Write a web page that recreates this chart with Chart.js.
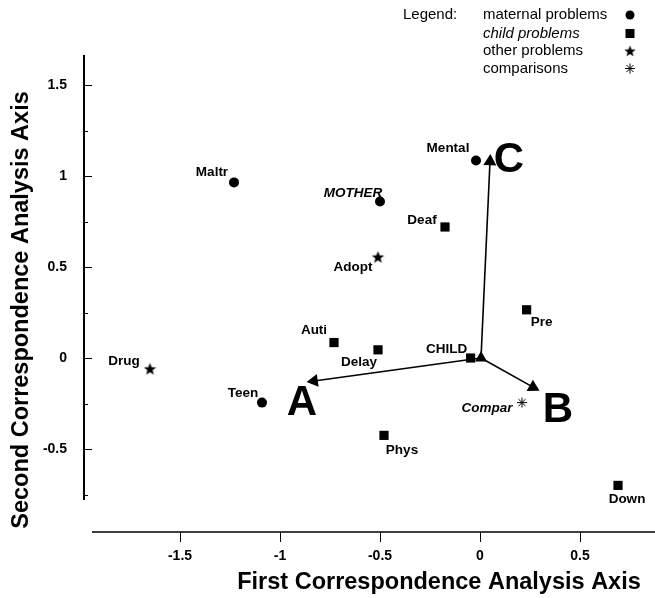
<!DOCTYPE html>
<html>
<head>
<meta charset="utf-8">
<script src="https://cdn.jsdelivr.net/npm/chart.js@4.4.1/dist/chart.umd.min.js"></script>
<style>
  html, body { margin: 0; padding: 0; background: #fff; }
  #wrap { width: 655px; height: 598px; }
</style>
</head>
<body>
<div id="wrap"><canvas id="chart" width="655" height="598"></canvas></div>
<script>
"use strict";

// --- data ---
var maternalNames = ['Maltr', 'MOTHER', 'Mental', 'Teen'];
var maternalX = [-1.23, -0.50, -0.02, -1.09];
var maternalY = [0.965, 0.86, 1.085, -0.245];

var childNames = ['Deaf', 'Auti', 'Delay', 'CHILD', 'Pre', 'Phys', 'Down'];
var childX = [-0.175, -0.73, -0.51, -0.047, 0.233, -0.48, 0.69];
var childY = [0.72, 0.085, 0.045, 0.0, 0.265, -0.425, -0.70];

var otherNames = ['Drug', 'Adopt'];
var otherX = [-1.65, -0.51];
var otherY = [-0.06, 0.555];

var comparNames = ['Compar'];
var comparX = [0.21];
var comparY = [-0.245];

var axisNames = ['A', 'B', 'C'];
var axisOriginX = 0.005;
var axisOriginY = 0;
var axisEndX = [-0.83, 0.265, 0.05];
var axisEndY = [-0.126, -0.16, 1.08];

var xTickValues = [-1.5, -1, -0.5, 0, 0.5];
var yTickValues = [-0.5, 0, 0.5, 1, 1.5];
var yMinorTicks = [-0.75, -0.25, 0.25, 0.75, 1.25];

var legendTitle = 'Legend:';
var legendLabels = ['maternal problems', 'child problems', 'other problems', 'comparisons'];

var xTitle = 'First Correspondence Analysis Axis';
var yTitle = 'Second Correspondence Analysis Axis';

// --- label placement (pixel offsets from the marker) ---
var labelOffsets = {
    Maltr: [-22, -10], MOTHER: [-27, -8], Mental: [-28, -12], Teen: [-19, -9],
    Deaf: [-23, -7], Auti: [-20, -12], Delay: [-19, 12], CHILD: [-24, -9],
    Pre: [15, 12], Phys: [18, 15], Down: [9, 14],
    Drug: [-26, -8], Adopt: [-25, 10], Compar: [-35, 6],
    A: [-12, 20], B: [25, 21], C: [19, -3]
};
var italicLabels = ['MOTHER', 'Compar'];

var FONT = '"Liberation Sans", Arial, Helvetica, sans-serif';

function points(xs, ys) {
    return xs.map(function (x, i) { return {x: x, y: ys[i]}; });
}

// filled five point star used for "other problems"
function makeStar(size) {
    var c = document.createElement('canvas');
    c.width = size;
    c.height = size;
    var g = c.getContext('2d');
    var cx = size / 2, cy = size / 2 + 0.5, R = size / 2, r = R * 0.42;
    g.beginPath();
    for (var i = 0; i < 10; i++) {
        var a = -Math.PI / 2 + i * Math.PI / 5;
        var rr = i % 2 ? r : R;
        g.lineTo(cx + Math.cos(a) * rr, cy + Math.sin(a) * rr);
    }
    g.closePath();
    g.fillStyle = '#000';
    g.fill();
    return c;
}
var starImg = makeStar(13);

function arrowRotation(ctx) {
    var chart = ctx.chart;
    var xs = chart.scales.x, ys = chart.scales.y;
    var ds = chart.data.datasets[ctx.datasetIndex];
    var p0 = ds.data[0], p1 = ds.data[1];
    if (!xs || !ys || !p0 || !p1) return 0;
    var dx = xs.getPixelForValue(p1.x) - xs.getPixelForValue(p0.x);
    var dy = ys.getPixelForValue(p1.y) - ys.getPixelForValue(p0.y);
    return Math.atan2(dy, dx) * 180 / Math.PI + 90;
}

var datasets = [];

axisNames.forEach(function (name, i) {
    datasets.push({
        type: 'line',
        label: name,
        letter: name,
        data: [{x: axisOriginX, y: axisOriginY}, {x: axisEndX[i], y: axisEndY[i]}],
        borderColor: '#000',
        borderWidth: 1.6,
        pointStyle: 'triangle',
        pointRadius: [0, 7.5],
        pointHoverRadius: [0, 7.5],
        pointRotation: arrowRotation,
        pointBackgroundColor: '#000',
        pointBorderColor: '#000',
        pointBorderWidth: 0,
        fill: false
    });
});

datasets.push({
    label: 'origin',
    data: [{x: axisOriginX, y: axisOriginY}],
    pointStyle: 'triangle',
    pointRadius: 7,
    backgroundColor: '#000',
    borderWidth: 0
});
datasets.push({
    label: 'maternal problems',
    names: maternalNames,
    data: points(maternalX, maternalY),
    pointStyle: 'circle',
    pointRadius: 5,
    backgroundColor: '#000',
    borderWidth: 0
});
datasets.push({
    label: 'child problems',
    names: childNames,
    data: points(childX, childY),
    pointStyle: 'rect',
    pointRadius: 6.5,
    backgroundColor: '#000',
    borderWidth: 0
});
datasets.push({
    label: 'other problems',
    names: otherNames,
    data: points(otherX, otherY),
    pointStyle: starImg,
    pointRadius: 6
});
datasets.push({
    label: 'comparisons',
    names: comparNames,
    data: points(comparX, comparY),
    pointStyle: 'star',
    pointRadius: 5,
    borderColor: '#000',
    borderWidth: 1,
    backgroundColor: '#000'
});

var decorations = {
    id: 'decorations',
    afterDraw: function (chart) {
        var ctx = chart.ctx;
        var area = chart.chartArea;
        var xs = chart.scales.x, ys = chart.scales.y;
        ctx.save();
        ctx.strokeStyle = '#000';
        ctx.fillStyle = '#000';

        // detached axis lines
        ctx.lineWidth = 2;
        ctx.beginPath();
        ctx.moveTo(area.left, area.top);
        ctx.lineTo(area.left, ys.getPixelForValue(-0.78));
        ctx.stroke();
        ctx.lineWidth = 1.6;
        ctx.beginPath();
        ctx.moveTo(xs.getPixelForValue(-1.94), area.bottom);
        ctx.lineTo(area.right, area.bottom);
        ctx.stroke();

        // tick marks
        ctx.lineWidth = 1;
        yTickValues.forEach(function (v) {
            var py = Math.round(ys.getPixelForValue(v)) + 0.5;
            ctx.beginPath();
            ctx.moveTo(area.left, py);
            ctx.lineTo(area.left + 8, py);
            ctx.stroke();
        });
        yMinorTicks.forEach(function (v) {
            var py = Math.round(ys.getPixelForValue(v)) + 0.5;
            ctx.beginPath();
            ctx.moveTo(area.left, py);
            ctx.lineTo(area.left + 4, py);
            ctx.stroke();
        });
        xTickValues.forEach(function (v) {
            var px = Math.round(xs.getPixelForValue(v)) + 0.5;
            ctx.beginPath();
            ctx.moveTo(px, area.bottom);
            ctx.lineTo(px, area.bottom + 10);
            ctx.stroke();
        });

        // axis titles
        ctx.font = 'bold 23.5px ' + FONT;
        ctx.textAlign = 'center';
        ctx.textBaseline = 'middle';
        ctx.fillText(xTitle, 439, 583);
        ctx.save();
        ctx.translate(22, 310);
        ctx.rotate(-Math.PI / 2);
        ctx.fillText(yTitle, 0, 0);
        ctx.restore();

        // point labels and big axis letters
        chart.data.datasets.forEach(function (ds, di) {
            var meta = chart.getDatasetMeta(di);
            if (ds.names) {
                ds.names.forEach(function (name, i) {
                    var el = meta.data[i];
                    var off = labelOffsets[name] || [0, 0];
                    var it = italicLabels.indexOf(name) >= 0 ? 'italic ' : '';
                    ctx.font = it + 'bold 13.5px ' + FONT;
                    ctx.fillText(name, el.x + off[0], el.y + off[1]);
                });
            }
            if (ds.letter) {
                var tip = meta.data[1];
                var o = labelOffsets[ds.letter];
                ctx.font = 'bold 42px ' + FONT;
                ctx.fillText(ds.letter, tip.x + o[0], tip.y + o[1] + 2);
            }
        });

        // legend block
        ctx.font = '15px ' + FONT;
        ctx.textAlign = 'left';
        ctx.fillText(legendTitle, 403, 15);
        var rowY = [15, 33.5, 51, 68.5];
        legendLabels.forEach(function (lab, i) {
            ctx.font = (i === 1 ? 'italic ' : '') + '15px ' + FONT;
            ctx.fillText(lab, 483, rowY[i]);
            var mx = 630, my = rowY[i];
            if (i === 0) {
                ctx.beginPath();
                ctx.arc(mx, my, 4.5, 0, Math.PI * 2);
                ctx.fill();
            } else if (i === 1) {
                ctx.fillRect(mx - 4.5, my - 4.5, 9, 9);
            } else if (i === 2) {
                ctx.drawImage(starImg, mx - 6, my - 6, 12, 12);
            } else {
                ctx.lineWidth = 1;
                for (var k = 0; k < 4; k++) {
                    var a = k * Math.PI / 4;
                    ctx.beginPath();
                    ctx.moveTo(mx - Math.cos(a) * 5, my - Math.sin(a) * 5);
                    ctx.lineTo(mx + Math.cos(a) * 5, my + Math.sin(a) * 5);
                    ctx.stroke();
                }
            }
        });
        ctx.restore();
    }
};

new Chart(document.getElementById('chart'), {
    type: 'scatter',
    data: {datasets: datasets},
    plugins: [decorations],
    options: {
        responsive: false,
        animation: false,
        events: [],
        layout: {autoPadding: false, padding: {top: 55, right: 0, bottom: 0, left: 0}},
        plugins: {
            legend: {display: false},
            tooltip: {enabled: false}
        },
        scales: {
            x: {
                type: 'linear',
                min: -1.98,
                max: 0.875,
                grid: {display: false, drawTicks: false},
                border: {display: false},
                afterFit: function (scale) { scale.height = 66; },
                afterBuildTicks: function (scale) {
                    scale.ticks = xTickValues.map(function (v) { return {value: v}; });
                },
                ticks: {
                    padding: 16,
                    color: '#000',
                    font: {family: FONT, size: 14, weight: 'bold'},
                    callback: function (v) { return String(v); }
                }
            },
            y: {
                type: 'linear',
                min: -0.956,
                max: 1.665,
                grid: {display: false, drawTicks: false},
                border: {display: false},
                afterFit: function (scale) { scale.width = 84; },
                afterBuildTicks: function (scale) {
                    scale.ticks = yTickValues.map(function (v) { return {value: v}; });
                },
                ticks: {
                    padding: 17,
                    color: '#000',
                    font: {family: FONT, size: 14, weight: 'bold'},
                    callback: function (v) { return String(v); }
                }
            }
        }
    }
});
</script>
</body>
</html>
